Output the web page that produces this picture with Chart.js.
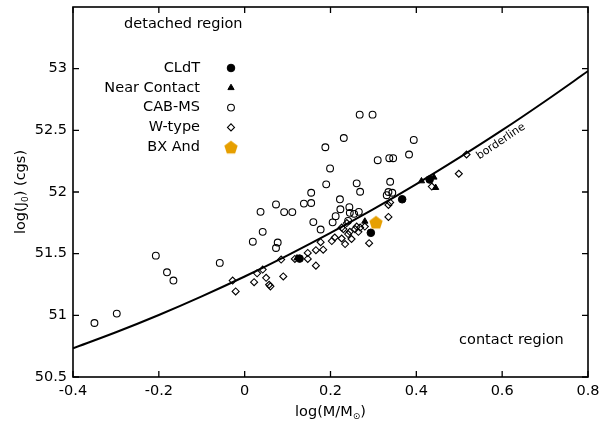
<!DOCTYPE html>
<html><head><meta charset="utf-8">
<script src="https://cdn.jsdelivr.net/npm/chart.js@4/dist/chart.umd.min.js"></script>
<style>html,body{margin:0;padding:0;background:#fff;} #wrap{width:616px;height:426px;position:relative;}</style>
</head><body><div id="wrap"><canvas id="c" width="616" height="426"></canvas></div>
<script>
// ---- data (log M/Msun, log J0) ----
const cabmsLogM = [-0.350, -0.298, -0.207, -0.181, -0.166, -0.058, 0.019, 0.037, 0.042, 0.077, 0.073, 0.073, 0.092, 0.111, 0.138, 0.155, 0.155, 0.190, 0.199, 0.188, 0.231, 0.268, 0.298, 0.160, 0.177, 0.205, 0.212, 0.222, 0.223, 0.244, 0.245, 0.255, 0.266, 0.241, 0.261, 0.269, 0.310, 0.337, 0.346, 0.383, 0.394, 0.339, 0.335, 0.344, 0.331];
const cabmsLogJ = [50.938, 51.014, 51.484, 51.349, 51.282, 51.425, 51.597, 51.839, 51.677, 51.590, 51.546, 51.899, 51.837, 51.837, 51.906, 51.911, 51.994, 52.062, 52.191, 52.363, 52.438, 52.627, 52.627, 51.756, 51.696, 51.754, 51.804, 51.941, 51.860, 51.877, 51.831, 51.823, 51.839, 51.766, 52.070, 52.002, 52.258, 52.274, 52.274, 52.304, 52.422, 52.083, 52.000, 51.994, 51.974];
const wtypeLogM = [-0.028, -0.021, 0.022, 0.029, 0.042, 0.050, 0.057, 0.060, 0.090, 0.085, 0.117, 0.147, 0.147, 0.166, 0.166, 0.183, 0.177, 0.203, 0.210, 0.226, 0.230, 0.234, 0.241, 0.245, 0.249, 0.257, 0.261, 0.265, 0.269, 0.280, 0.238, 0.290, 0.335, 0.335, 0.339, 0.436, 0.499, 0.517, 0.226];
const wtypeLogJ = [51.282, 51.194, 51.269, 51.341, 51.371, 51.304, 51.248, 51.235, 51.315, 51.452, 51.457, 51.506, 51.457, 51.403, 51.528, 51.532, 51.593, 51.602, 51.631, 51.623, 51.699, 51.578, 51.659, 51.677, 51.619, 51.699, 51.720, 51.677, 51.712, 51.720, 51.748, 51.585, 51.798, 51.895, 51.915, 52.044, 52.148, 52.304, 51.712];
const cldtLogM = [0.128, 0.294, 0.367, 0.431];
const cldtLogJ = [51.460, 51.669, 51.941, 52.101];
const nearLogM = [0.122, 0.280, 0.412, 0.441, 0.445];
const nearLogJ = [51.464, 51.762, 52.089, 52.119, 52.035];
const bxandLogM = [0.306];
const bxandLogJ = [51.754];
const borderLogM = [-0.4, -0.3, -0.2, -0.1, 0.0, 0.1, 0.2, 0.3, 0.4, 0.5, 0.6, 0.7, 0.8];
const borderLogJ = [50.733, 50.863, 51.003, 51.154, 51.315, 51.487, 51.669, 51.861, 52.064, 52.278, 52.501, 52.736, 52.980];
const seriesNames = ['CLdT', 'Near Contact', 'CAB-MS', 'W-type', 'BX And'];
const xTicks = [-0.4, -0.2, 0, 0.2, 0.4, 0.6, 0.8];
const yTicks = [50.5, 51, 51.5, 52, 52.5, 53];

const FONT = 'DejaVu Sans';
const FS = 14.5;
const ORANGE = '#E69F00';

function pts(xs, ys){ return xs.map((v,i)=>({x:v, y:ys[i]})); }

// pentagon marker for BX And
const penta = document.createElement('canvas');
penta.width = 16; penta.height = 16;
(function(){
  const c = penta.getContext('2d');
  c.fillStyle = ORANGE; c.beginPath();
  for (let k=0;k<5;k++){
    const a = -Math.PI/2 + k*2*Math.PI/5;
    const px = 8 + 7*Math.cos(a), py = 8.6 + 7*Math.sin(a);
    k? c.lineTo(px,py) : c.moveTo(px,py);
  }
  c.closePath(); c.fill();
})();

const styles = [
  {pointStyle:'circle', radius:3.8, fill:'#000', border:'#000', bw:1},
  {pointStyle:'triangle', radius:3.6, fill:'#000', border:'#000', bw:1},
  {pointStyle:'circle', radius:3.4, fill:'rgba(0,0,0,0)', border:'#000', bw:1.1},
  {pointStyle:'rectRot', radius:3.5, fill:'rgba(0,0,0,0)', border:'#000', bw:1.1},
  {pointStyle:penta, radius:7, fill:ORANGE, border:ORANGE, bw:0}
];

function drawMarker(ctx, s, x, y){
  ctx.save();
  ctx.fillStyle = s.fill; ctx.strokeStyle = s.border; ctx.lineWidth = s.bw;
  if (Chart.helpers && Chart.helpers.drawPoint){
    Chart.helpers.drawPoint(ctx, {pointStyle:s.pointStyle, radius:s.radius, rotation:0, borderWidth:s.bw}, x, y);
  } else {
    ctx.beginPath(); ctx.arc(x,y,s.radius,0,Math.PI*2); ctx.fill(); ctx.stroke();
  }
  ctx.restore();
}

const decor = {
  id:'decor',
  afterDatasetsDraw(chart){
    const {ctx, chartArea:a, scales:{x, y}} = chart;
    ctx.save();
    // frame
    ctx.strokeStyle = '#000'; ctx.lineWidth = 1.6;
    ctx.strokeRect(a.left, a.top, a.right-a.left, a.bottom-a.top);
    // inward ticks on all sides
    ctx.lineWidth = 1.3; ctx.beginPath();
    xTicks.forEach(v=>{ const p = x.getPixelForValue(v);
      ctx.moveTo(p, a.bottom); ctx.lineTo(p, a.bottom-6);
      ctx.moveTo(p, a.top); ctx.lineTo(p, a.top+6); });
    yTicks.forEach(v=>{ const p = y.getPixelForValue(v);
      ctx.moveTo(a.left, p); ctx.lineTo(a.left+6, p);
      ctx.moveTo(a.right, p); ctx.lineTo(a.right-6, p); });
    ctx.stroke();

    ctx.fillStyle = '#000';
    ctx.font = FS + 'px "' + FONT + '"';
    // region labels
    ctx.textAlign = 'left'; ctx.textBaseline = 'middle';
    ctx.fillText('detached region', x.getPixelForValue(-0.281), y.getPixelForValue(53.363));
    ctx.fillText('contact region', x.getPixelForValue(0.4995), y.getPixelForValue(50.80));
    // borderline label
    ctx.save();
    ctx.translate(x.getPixelForValue(0.597), y.getPixelForValue(52.41));
    ctx.rotate(-34 * Math.PI/180);
    ctx.textAlign = 'center'; ctx.font = '11px "' + FONT + '"';
    ctx.fillText('borderline', 0, 0);
    ctx.restore();

    // legend
    ctx.textAlign = 'right'; ctx.textBaseline = 'middle';
    seriesNames.forEach((n,i)=>{
      const yy = a.top + 61 + i*19.8;
      ctx.fillStyle = '#000';
      ctx.fillText(n, a.left + 127, yy);
      drawMarker(ctx, styles[i], a.left + 158, yy);
    });

    // x axis title with subscript
    ctx.fillStyle = '#000';
    ctx.textBaseline = 'alphabetic'; ctx.textAlign = 'left';
    const big = FS + 'px "' + FONT + '"', small = '9px "' + FONT + '"';
    ctx.font = big; const w1 = ctx.measureText('log(M/M').width; const w3 = ctx.measureText(')').width;
    ctx.font = small; const w2 = ctx.measureText('\u2299').width;
    let sx = (a.left + a.right)/2 - (w1+w2+w3)/2; const by = 416;
    ctx.font = big; ctx.fillText('log(M/M', sx, by); sx += w1;
    ctx.font = small; ctx.fillText('\u2299', sx, by + 3); sx += w2;
    ctx.font = big; ctx.fillText(')', sx, by);

    // y axis title with subscript
    ctx.save();
    ctx.translate(25, (a.top + a.bottom)/2);
    ctx.rotate(-Math.PI/2);
    ctx.font = big; const v1 = ctx.measureText('log(J').width; const v3 = ctx.measureText(') (cgs)').width;
    ctx.font = small; const v2 = ctx.measureText('0').width;
    let tx = -(v1+v2+v3)/2;
    ctx.font = big; ctx.fillText('log(J', tx, 0); tx += v1;
    ctx.font = small; ctx.fillText('0', tx, 3); tx += v2;
    ctx.font = big; ctx.fillText(') (cgs)', tx, 0);
    ctx.restore();
    ctx.restore();
  }
};

function ds(label, xs, ys, s, order){
  return {label, data: pts(xs, ys), pointStyle: s.pointStyle, pointRadius: s.radius, pointHoverRadius: s.radius,
    pointBackgroundColor: s.fill, pointBorderColor: s.border, pointBorderWidth: s.bw, showLine:false, order};
}

function noPad(s){ s.paddingTop = 0; s.paddingBottom = 0; s.paddingLeft = 0; s.paddingRight = 0; }

new Chart(document.getElementById('c'), {
  type: 'scatter',
  data: { datasets: [
    ds('BX And', bxandLogM, bxandLogJ, styles[4], 0),
    ds('CLdT', cldtLogM, cldtLogJ, styles[0], 1),
    ds('Near Contact', nearLogM, nearLogJ, styles[1], 2),
    ds('W-type', wtypeLogM, wtypeLogJ, styles[3], 3),
    ds('CAB-MS', cabmsLogM, cabmsLogJ, styles[2], 4),
    {label:'borderline', data: pts(borderLogM, borderLogJ), showLine:true, pointRadius:0, borderColor:'#000', borderWidth:2,
     cubicInterpolationMode:'monotone', fill:false, order:5}
  ]},
  options: {
    responsive:false, devicePixelRatio:1, animation:false,
    layout:{padding:{top:5, right:28, left:0, bottom:0}},
    plugins:{legend:{display:false}, tooltip:{enabled:false}},
    scales:{
      x:{type:'linear', min:-0.4, max:0.8,
         grid:{display:false, drawTicks:false}, border:{display:false},
         afterFit(s){ s.height = 49; noPad(s); },
         afterBuildTicks(s){ s.ticks = xTicks.map(v=>({value:v})); },
         ticks:{color:'#000', padding:6, font:{family:FONT, size:FS}, maxRotation:0,
                callback:v=>String(+(+v).toFixed(1))}},
      y:{type:'linear', min:50.5, max:53.5,
         grid:{display:false, drawTicks:false}, border:{display:false},
         afterFit(s){ s.width = 73; noPad(s); },
         afterBuildTicks(s){ s.ticks = yTicks.map(v=>({value:v})); },
         ticks:{color:'#000', padding:6, font:{family:FONT, size:FS},
                callback:v=>String(+(+v).toFixed(1))}}
    }
  },
  plugins:[decor]
});
</script></body></html>
